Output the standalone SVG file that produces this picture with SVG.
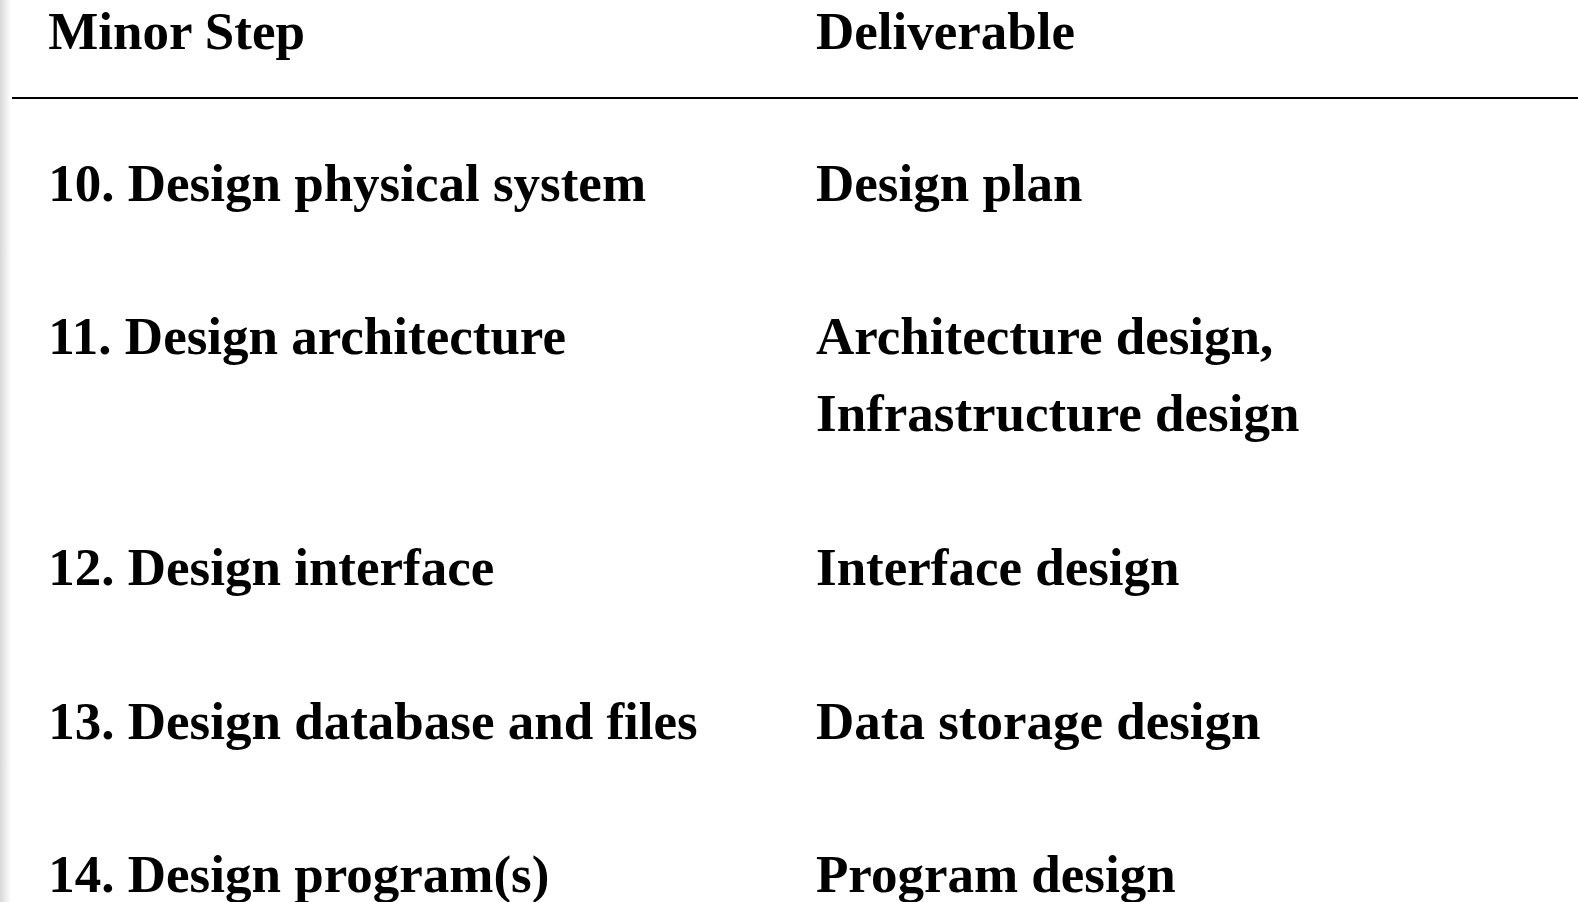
<svg xmlns="http://www.w3.org/2000/svg" width="1578" height="902" viewBox="0 0 1578 902">
<defs>
<linearGradient id="edge" x1="0" y1="0" x2="1" y2="0">
<stop offset="0" stop-color="#d8d8d8"/>
<stop offset="1" stop-color="#ffffff"/>
</linearGradient>
<style>
text{font-family:"Liberation Serif","Times New Roman",serif;font-weight:bold;font-size:53px;fill:#000}
</style>
</defs>
<rect x="0" y="0" width="1578" height="902" fill="#fff"/>
<rect x="0" y="0" width="11" height="902" fill="url(#edge)"/>
<g id="header">
<text x="48.3" y="48.5">Minor Step</text>
<text x="816" y="48.5">Deliverable</text>
</g>
<line x1="12" y1="98" x2="1578" y2="98" stroke="#000" stroke-width="2"/>
<g id="row10">
<text x="48.3" y="201">10. Design physical system</text>
<text x="816" y="201">Design plan</text>
</g>
<g id="row11">
<text x="48.3" y="353.5">11. Design architecture</text>
<text x="816" y="353.5">Architecture design,</text>
<text x="816" y="430.8">Infrastructure design</text>
</g>
<g id="row12">
<text x="48.3" y="584.7">12. Design interface</text>
<text x="816" y="584.7">Interface design</text>
</g>
<g id="row13">
<text x="48.3" y="738.5">13. Design database and files</text>
<text x="816" y="738.5">Data storage design</text>
</g>
<g id="row14">
<text x="48.3" y="891.7">14. Design program(s)</text>
<text x="816" y="891.7">Program design</text>
</g>
</svg>
